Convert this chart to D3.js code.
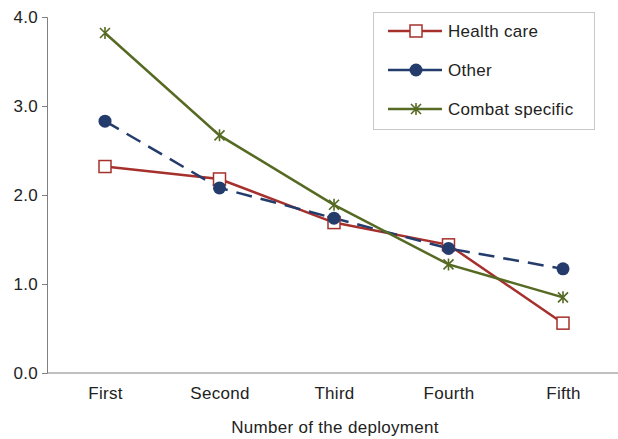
<!DOCTYPE html>
<html><head><meta charset="utf-8">
<script src="https://cdn.jsdelivr.net/npm/d3@7"></script>
<style>body{margin:0;background:#fff}text{font-family:Arial,"Liberation Sans",sans-serif;letter-spacing:0.3px}</style>
</head><body><svg id="chart" width="618" height="439"></svg>
<script>
const categories = ["First", "Second", "Third", "Fourth", "Fifth"];
const healthCare = [2.32, 2.18, 1.69, 1.44, 0.56];
const other = [2.83, 2.08, 1.74, 1.40, 1.17];
const combat = [3.82, 2.67, 1.89, 1.22, 0.85];
const yTicks = [0, 1, 2, 3, 4];

const series = [
  { label: "Health care", values: healthCare, color: "#a5302c", marker: "square", dash: null },
  { label: "Other", values: other, color: "#243c6b", marker: "circle", dash: "16,9" },
  { label: "Combat specific", values: combat, color: "#576a23", marker: "star", dash: null }
];
const fs = 17;

const svg = d3.select("#chart");
const x = d3.scalePoint().domain(categories).range([105, 563]);
const y = d3.scaleLinear().domain([0, 4]).range([373, 17]);

// axes
const yAxis = svg.append("g").attr("transform", "translate(47,0)")
  .call(d3.axisLeft(y).tickValues(yTicks).tickFormat(d3.format(".1f")).tickSize(5));
const xAxis = svg.append("g").attr("transform", "translate(0,373)")
  .call(d3.axisBottom(x).tickSize(0).tickPadding(14));
xAxis.select(".domain").attr("d", "M47,0H620");
svg.selectAll(".domain").attr("stroke", "#808080");
yAxis.selectAll(".tick line").attr("stroke", "#808080");
svg.selectAll(".tick text").attr("font-size", fs).attr("fill", "#222");
yAxis.selectAll(".tick text").attr("dx", -1).attr("dy", "0.35em");
svg.append("text").attr("x", 335).attr("y", 433).attr("text-anchor", "middle")
  .attr("font-size", fs).attr("fill", "#222").text("Number of the deployment");

function drawMarker(g, type, cx, cy, color) {
  if (type === "square") {
    g.append("rect").attr("x", cx - 6).attr("y", cy - 6).attr("width", 12).attr("height", 12)
      .attr("fill", "#fff").attr("stroke", color).attr("stroke-width", 1.5);
  } else if (type === "circle") {
    g.append("circle").attr("cx", cx).attr("cy", cy).attr("r", 6.5).attr("fill", color);
  } else {
    g.append("path").attr("d", `M${cx-5},${cy-5}L${cx+5},${cy+5}M${cx-5},${cy+5}L${cx+5},${cy-5}M${cx},${cy-6}V${cy+6}`)
      .attr("stroke", color).attr("stroke-width", 1.6).attr("fill", "none");
  }
}

const line = d3.line().x((d, i) => x(categories[i])).y(d => y(d));
series.forEach(s => {
  svg.append("path").attr("d", line(s.values)).attr("fill", "none")
    .attr("stroke", s.color).attr("stroke-width", 2.5).attr("stroke-dasharray", s.dash);
});
series.forEach(s => {
  const g = svg.append("g");
  s.values.forEach((v, i) => drawMarker(g, s.marker, x(categories[i]), y(v), s.color));
});

// legend
const lg = svg.append("g");
lg.append("rect").attr("x", 373.5).attr("y", 12.5).attr("width", 221).attr("height", 117)
  .attr("fill", "#fff").attr("stroke", "#c8c8c8");
series.forEach((s, i) => {
  const ly = 31 + i * 39;
  lg.append("line").attr("x1", 388).attr("x2", 442).attr("y1", ly).attr("y2", ly)
    .attr("stroke", s.color).attr("stroke-width", 2.5);
  drawMarker(lg, s.marker, 416, ly, s.color);
  lg.append("text").attr("x", 448).attr("y", ly + 6).attr("font-size", fs).attr("fill", "#222").text(s.label);
});
</script></body></html>
